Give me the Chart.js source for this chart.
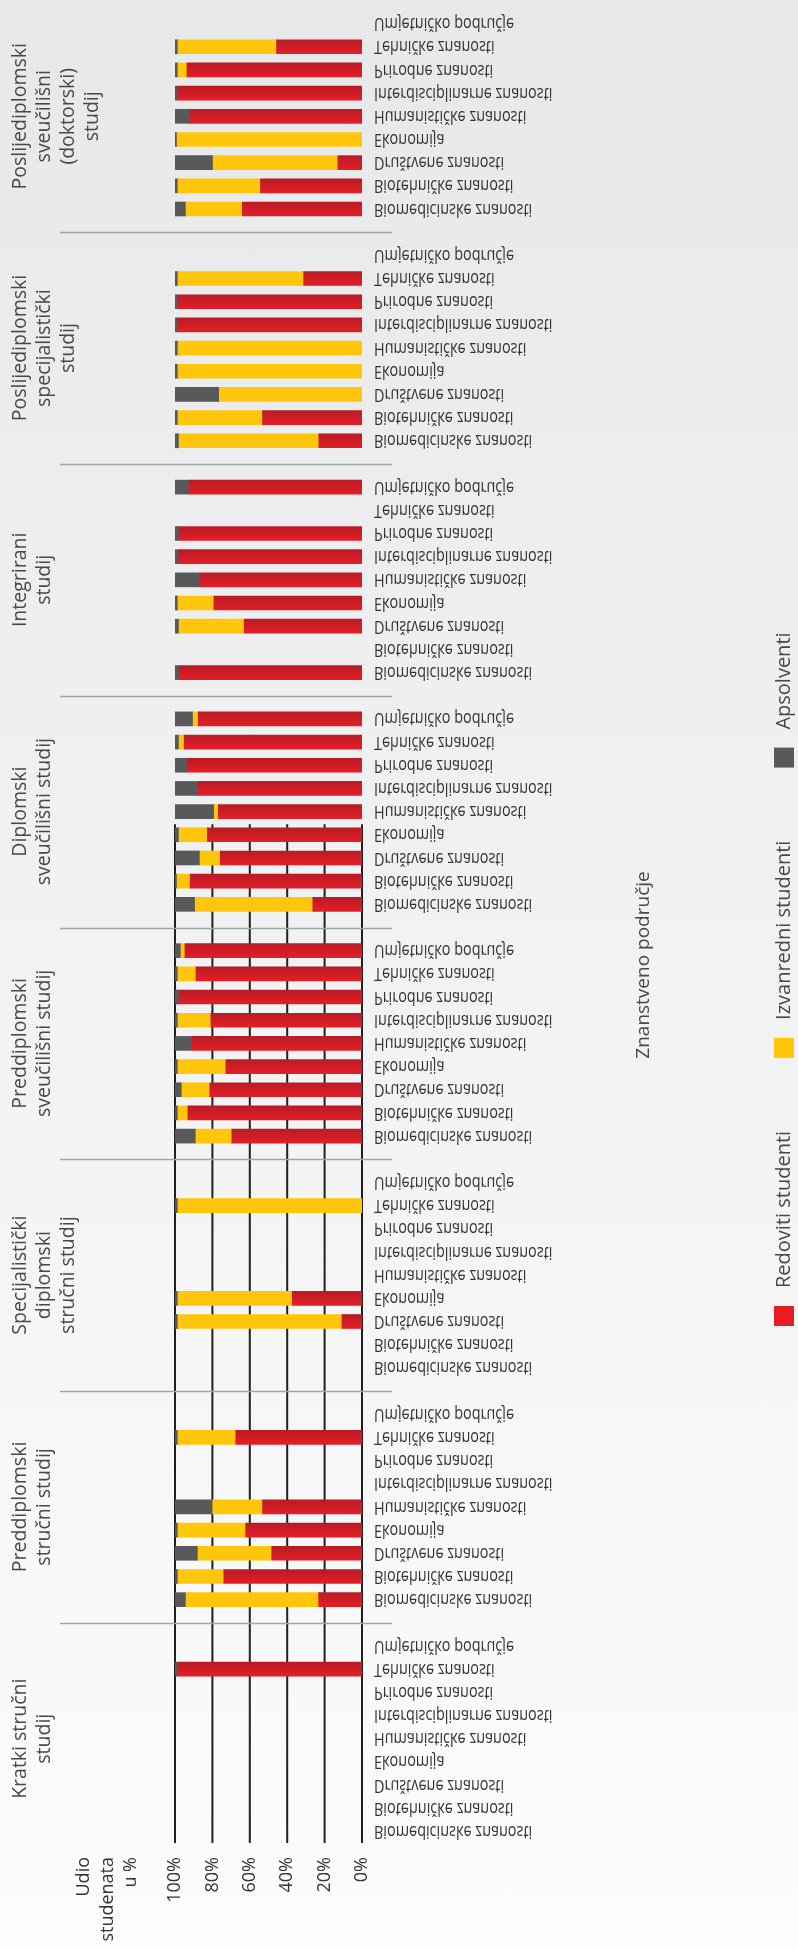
<!DOCTYPE html>
<html>
<head>
<meta charset="utf-8">
<script src="https://cdn.jsdelivr.net/npm/chart.js@4.4.1/dist/chart.umd.min.js"></script>
<style>
  body { margin: 0; }
  #wrap {
    width: 798px; height: 1948px;
    background: linear-gradient(#e7e8ea, #fcfcfc);
  }
</style>
</head>
<body>
<div id="wrap"><canvas id="chart-students" width="798" height="1948"></canvas></div>
<script>
// scientific fields, bottom to top inside each study type
var fields = ['Biomedicinske znanosti', 'Biotehničke znanosti', 'Društvene znanosti', 'Ekonomija',
  'Humanističke znanosti', 'Interdisciplinarne znanosti', 'Prirodne znanosti', 'Tehničke znanosti',
  'Umjetničko područje'];

// study types, bottom to top (lines of the group label)
var studyTypes = [
  ['Kratki stručni', 'studij'],
  ['Preddiplomski', 'stručni studij'],
  ['Specijalistički', 'diplomski', 'stručni studij'],
  ['Preddiplomski', 'sveučilišni studij'],
  ['Diplomski', 'sveučilišni studij'],
  ['Integrirani', 'studij'],
  ['Poslijediplomski', 'specijalistički', 'studij'],
  ['Poslijediplomski', 'sveučilišni', '(doktorski)', 'studij']
];

var seriesNames = ['Redoviti studenti', 'Izvanredni studenti', 'Apsolventi'];

// share of students in %, one row per study type, one value per field
var redoviti = [
  [null, null, null, null, null, null, null, 98.4, null],
  [23.2, 73.9, 48.3, 62.2, 53.2, null, null, 67.5, null],
  [null, null, 10.7, 37.3, null, null, null, null, null],
  [69.6, 93.1, 81.4, 72.8, 90.9, 80.8, 97.9, 88.8, 94.7],
  [26.3, 91.9, 75.8, 82.7, 76.8, 87.8, 93.5, 95.1, 87.6],
  [97.8, null, 63.0, 79.2, 86.7, 98.0, 97.8, null, 92.5],
  [23.1, 53.2, null, null, null, 98.7, 98.7, 31.2, null],
  [64.0, 54.3, 12.9, null, 91.9, 98.6, 93.6, 45.7, null]
];
var izvanredni = [
  [null, null, null, null, null, null, null, null, null],
  [70.9, 24.5, 39.4, 36.2, 26.6, null, null, 30.9, null],
  [null, null, 87.7, 61.1, null, null, null, 98.4, null],
  [19.2, 5.3, 14.9, 25.6, null, 17.6, null, 9.6, 2.1],
  [62.9, 7.0, 10.8, 15.1, 2.2, null, null, 2.7, 2.7],
  [null, null, 34.8, 19.2, null, null, null, null, null],
  [74.7, 45.2, 76.3, 98.4, 98.4, null, null, 67.2, null],
  [30.1, 44.1, 66.7, 98.9, null, null, 4.8, 52.7, null]
];
var apsolventi = [
  [null, null, null, null, null, null, null, 1.6, null],
  [5.9, 1.6, 12.3, 1.6, 20.2, null, null, 1.6, null],
  [null, null, 1.6, 1.6, null, null, null, 1.6, null],
  [11.2, 1.6, 3.7, 1.6, 9.1, 1.6, 2.1, 1.6, 3.2],
  [10.8, 1.1, 13.4, 2.2, 21.0, 12.2, 6.5, 2.2, 9.7],
  [2.2, null, 2.2, 1.6, 13.3, 2.0, 2.2, null, 7.5],
  [2.2, 1.6, 23.7, 1.6, 1.6, 1.3, 1.3, 1.6, null],
  [5.9, 1.6, 20.4, 1.1, 8.1, 1.4, 1.6, 1.6, null]
];

var percentTicks = [0, 20, 40, 60, 80, 100];
var valueAxisTitle = ['Udio', 'studenata', 'u %'];
var fieldAxisTitle = 'Znanstveno područje';

var RED_TOP = '#b81c25', RED_BOTTOM = '#e51e26', YELLOW = '#ffc60b', GREY = '#58595b';
var LABEL_FONT = '19.5px "Open Sans", sans-serif';
var FIELD_FONT = '19px "Open Sans", sans-serif';

// one empty slot between study types
function flatten(groups, gapValue) {
  var out = [];
  groups.forEach(function (g, i) {
    g.forEach(function (v) { out.push(v); });
    if (i < groups.length - 1) out.push(gapValue);
  });
  return out;
}
var slotLabels = flatten(studyTypes.map(function () { return fields; }), '');
var perGroup = fields.length + 1;

function upText(ctx, text, x, y, align) {
  ctx.save();
  ctx.translate(x, y);
  ctx.rotate(-Math.PI / 2);
  ctx.textAlign = align;
  ctx.textBaseline = 'middle';
  ctx.fillText(text, 0, 0);
  ctx.restore();
  return ctx.measureText(text).width;
}

var redFill = function (c) {
  var chart = c.chart;
  if (!chart.chartArea) return RED_BOTTOM;
  var y = chart.scales.y.getPixelForValue(c.dataIndex);
  var g = chart.ctx.createLinearGradient(0, y - 7, 0, y + 7);
  g.addColorStop(0, RED_TOP);
  g.addColorStop(1, RED_BOTTOM);
  return g;
};

var decorations = {
  id: 'decorations',
  beforeDatasetsDraw: function (chart) {
    var ctx = chart.ctx, x = chart.scales.x, y = chart.scales.y, area = chart.chartArea;
    ctx.save();
    // value grid, only in the lower part as in the original
    ctx.strokeStyle = '#231f20';
    ctx.lineWidth = 2;
    var gridTop = y.getPixelForValue(43.45);
    percentTicks.forEach(function (t) {
      var px = x.getPixelForValue(t);
      ctx.beginPath();
      ctx.moveTo(px, gridTop);
      ctx.lineTo(px, area.bottom);
      ctx.stroke();
    });
    // separators between study types
    ctx.strokeStyle = '#a3a3a3';
    ctx.lineWidth = 1.5;
    for (var g = 1; g < studyTypes.length; g++) {
      var py = Math.round(y.getPixelForValue(g * perGroup - 1)) + 0.5;
      ctx.beginPath();
      ctx.moveTo(area.left - 115, py);
      ctx.lineTo(area.right + 30, py);
      ctx.stroke();
    }
    ctx.restore();
  },
  afterDraw: function (chart) {
    var ctx = chart.ctx, y = chart.scales.y, area = chart.chartArea;
    ctx.save();

    // field names, mirrored upside down like the source, narrow face
    ctx.fillStyle = '#333';
    ctx.font = FIELD_FONT;
    ctx.textAlign = 'left';
    ctx.textBaseline = 'middle';
    slotLabels.forEach(function (lab, i) {
      if (!lab) return;
      ctx.save();
      ctx.translate(area.right + 12, y.getPixelForValue(i));
      ctx.scale(0.76, -1);
      ctx.fillText(lab, 0, 0);
      ctx.restore();
    });

    // study type labels
    ctx.fillStyle = '#484848';
    ctx.font = LABEL_FONT;
    studyTypes.forEach(function (lines, g) {
      var cy = y.getPixelForValue(g * perGroup + 4);
      lines.forEach(function (line, k) {
        upText(ctx, line, 20 + k * 24.3, cy, 'center');
      });
    });

    // value axis title
    ctx.fillStyle = '#333';
    ctx.font = '18px "Open Sans", sans-serif';
    valueAxisTitle.forEach(function (line, k) {
      upText(ctx, line, 84 + k * 23.5, area.bottom + 14, 'right');
    });

    // field axis title
    ctx.fillStyle = '#484848';
    ctx.font = '19px "Open Sans", sans-serif';
    upText(ctx, fieldAxisTitle, 644, 965, 'center');

    // legend, reading upwards
    ctx.font = '20px "Open Sans", sans-serif';
    var ly = 1326;
    chart.data.datasets.forEach(function (ds) {
      ctx.fillStyle = ds.legendColor;
      ctx.fillRect(774, ly - 20, 20, 20);
      ctx.fillStyle = '#484848';
      var w = upText(ctx, ds.label, 784, ly - 38, 'left');
      ly = ly - 38 - w - 73;
    });
    ctx.restore();
  }
};

var ctx = document.getElementById('chart-students').getContext('2d');

new Chart(ctx, {
  type: 'bar',
  data: {
    labels: slotLabels,
    datasets: [{
      label: seriesNames[0],
      data: flatten(redoviti, null),
      backgroundColor: redFill,
      legendColor: '#e81e25'
    }, {
      label: seriesNames[1],
      data: flatten(izvanredni, null),
      backgroundColor: YELLOW,
      legendColor: YELLOW
    }, {
      label: seriesNames[2],
      data: flatten(apsolventi, null),
      backgroundColor: GREY,
      legendColor: GREY
    }]
  },
  options: {
    indexAxis: 'y',
    responsive: false,
    animation: false,
    barThickness: 14,
    borderWidth: 0,
    layout: {
      padding: { top: 12, left: 175, right: 436, bottom: 0 }
    },
    plugins: {
      legend: { display: false },
      tooltip: { enabled: false }
    },
    scales: {
      x: {
        type: 'linear',
        position: 'bottom',
        min: 0,
        max: 100,
        reverse: true,
        stacked: true,
        grid: { display: false, drawTicks: false },
        border: { display: false },
        afterBuildTicks: function (scale) {
          scale.ticks = percentTicks.map(function (v) { return { value: v }; });
        },
        afterFit: function (scale) { scale.height = 105; },
        ticks: {
          minRotation: 90,
          maxRotation: 90,
          padding: 14,
          color: '#333',
          font: { family: '"Open Sans", sans-serif', size: 18 },
          callback: function (v) { return v + '%'; }
        }
      },
      y: {
        type: 'category',
        display: false,
        reverse: true,
        stacked: true,
        offset: true
      }
    }
  },
  plugins: [decorations]
});
</script>
</body>
</html>
